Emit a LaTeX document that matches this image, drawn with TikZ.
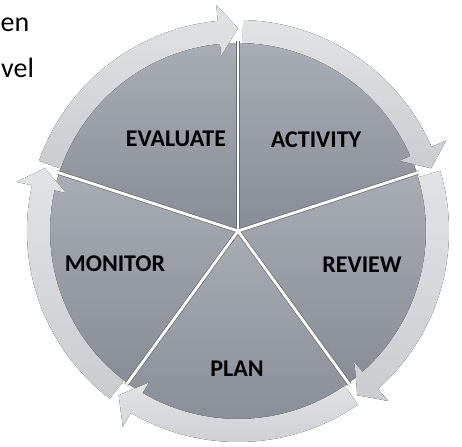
\documentclass[tikz,border=0pt]{standalone}
\usepackage{fontspec}
\setmainfont{Carlito}
\begin{document}
\begin{tikzpicture}[x=1pt,y=1pt,
  pie/.style={top color={rgb,255:red,168;green,172;blue,179}, bottom color={rgb,255:red,136;green,141;blue,149}},
  ring/.style={top color={rgb,255:red,226;green,227;blue,229}, bottom color={rgb,255:red,202;green,204;blue,208}},
  sepdark/.style={draw={rgb,255:red,105;green,109;blue,116}, line width=4.2pt},
  sepwhite/.style={draw=white, line width=2.8pt},
  lbl/.style={font=\fontsize{24}{28}\selectfont\bfseries, text=black},
  body/.style={font=\fontsize{28}{32}\selectfont, text=black, anchor=base west, inner sep=0pt}]
\useasboundingbox (-238,-215) rectangle (224,231);
\coordinate (c) at (0,0);
% pie sectors
\foreach \a/\b in {90/18, 18/-54, -54/-126, -126/-198, 162/90}{
  \fill[pie] (c) -- (\a:188) arc[start angle=\a, end angle=\b, radius=188] -- cycle;
}
% separators
\foreach \a in {90,18,-54,-126,162}{
  \draw[sepdark] (c) -- (\a:190);
}
\foreach \a in {90,18,-54,-126,162}{
  \draw[sepwhite] (c) -- (\a:190);
}
% circular arrows
\foreach \s/\e in {90/18, 18/-54, -54/-126, -126/-198, 162/90}{
  \pgfmathsetmacro{\st}{\s-1.4}
  \pgfmathsetmacro{\hb}{\e+5.5}
  \fill[ring] (\st:211) arc[start angle=\st, end angle=\hb, radius=211]
     -- (\hb:227) -- (\e:203) -- (\hb:176) -- (\hb:188)
     arc[start angle=\hb, end angle=\st, radius=188] -- cycle;
}
% labels
\node[lbl] (evaluate) at (-62,92) {EVALUATE};
\node[lbl] (activity) at (78,91) {ACTIVITY};
\node[lbl] (monitor) at (-123,-33) {MONITOR};
\node[lbl] (review) at (124,-34) {REVIEW};
\node[lbl] (plan) at (-1,-138) {PLAN};
% body text fragments at the left edge
\node[body] (t1) at (-237.5,199) {en};
\node[body] (t2) at (-237,153) {vel};
\end{tikzpicture}
\end{document}
